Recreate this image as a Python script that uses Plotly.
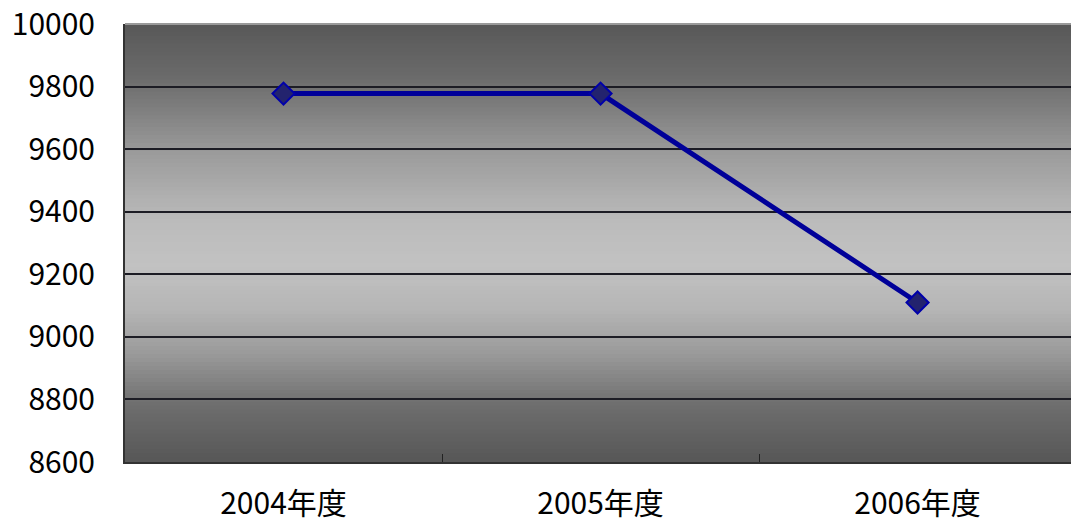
import plotly.graph_objects as go

# ---- data ----
categories = ["2004年度", "2005年度", "2006年度"]
values = [9778, 9778, 9110]
y_ticks = [8600, 8800, 9000, 9200, 9400, 9600, 9800, 10000]

# ---- background gradient (style only) ----
stops = [(0.0, 0x58), (0.12, 0x6a), (0.3, 0x9c), (0.45, 0xbb), (0.55, 0xc2),
         (0.65, 0xb6), (0.76, 0x98), (0.87, 0x6e), (1.0, 0x57)]

def grey_at(t):
    for (t0, c0), (t1, c1) in zip(stops[:-1], stops[1:]):
        if t0 <= t <= t1:
            f = (t - t0) / (t1 - t0) if t1 > t0 else 0
            v = int(round(c0 + (c1 - c0) * f))
            return f"rgb({v},{v},{v})"
    v = stops[-1][1]
    return f"rgb({v},{v},{v})"

n = 110
shapes = []
for i in range(n):
    y1 = 1 - i / n
    y0 = 1 - (i + 1) / n
    t = (i + 0.5) / n
    shapes.append(dict(type="rect", xref="paper", yref="paper", x0=0, x1=1,
                       y0=y0 - 0.001, y1=y1 + 0.001, line=dict(width=0),
                       fillcolor=grey_at(t), layer="below"))
# light top border
shapes.append(dict(type="line", xref="paper", yref="paper", x0=0, x1=1, y0=1, y1=1,
                   line=dict(color="#9a9a9a", width=2), layer="above"))

fig = go.Figure()
fig.add_trace(go.Scatter(
    x=categories, y=values, mode="lines+markers",
    line=dict(color="#000099", width=5),
    marker=dict(symbol="diamond", size=17, color="#23236e",
                line=dict(color="#0000aa", width=2)),
    showlegend=False,
))

font_family = "Noto Sans CJK JP"
fig.update_layout(
    width=1071, height=523,
    margin=dict(l=125, r=0, t=22, b=61),
    paper_bgcolor="white", plot_bgcolor="#8a8a8a",
    shapes=shapes,
    font=dict(family=font_family, color="black", size=30),
    xaxis=dict(
        type="category", range=[-0.5, 2.484],
        tickson="boundaries", ticks="inside", ticklen=8, tickcolor="#222222",
        tickwidth=1, showgrid=False, showline=True, linecolor="#333333", linewidth=2,
        tickfont=dict(family=font_family, size=30, color="black"),
        ticklabelstandoff=14,
    ),
    yaxis=dict(
        range=[8600, 10000.5], tickvals=y_ticks, ticktext=[str(v) for v in y_ticks],
        showgrid=True, gridcolor="#1c1c24", gridwidth=1.5,
        showline=True, linecolor="#333333", linewidth=2, zeroline=False,
        ticks="", tickfont=dict(family=font_family, size=30, color="black"),
        ticklabelstandoff=22, ticklabeloverflow="allow",
    ),
)

fig.write_html("out.html")
